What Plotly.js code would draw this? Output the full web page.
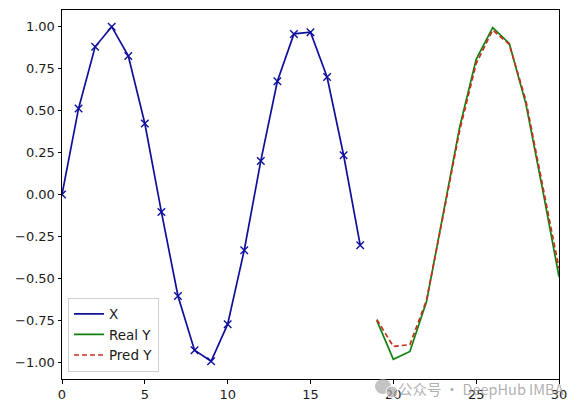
<!DOCTYPE html>
<html>
<head>
<meta charset="utf-8">
<script src="https://cdn.plot.ly/plotly-3.0.1.min.js"></script>
<style>html,body{margin:0;padding:0;background:#fff;}#chart{width:577px;height:413px;}</style>
</head>
<body>
<div id="chart"></div>
<script>
const xSteps = [0,1,2,3,4,5,6,7,8,9,10,11,12,13,14,15,16,17,18];
const xValues = [0, 0.513, 0.88, 1.0, 0.826, 0.423, -0.104, -0.605, -0.928, -0.994, -0.773, -0.332, 0.2, 0.675, 0.957, 0.967, 0.70, 0.234, -0.302];
const ySteps = [19,20,21,22,23,24,25,26,27,28,29,30];
const realY = [-0.75, -0.982, -0.935, -0.64, -0.12, 0.40, 0.805, 0.995, 0.90, 0.54, 0.035, -0.49];
const predY = [-0.745, -0.905, -0.895, -0.63, -0.13, 0.38, 0.78, 0.98, 0.895, 0.56, 0.06, -0.44];
const yTicks = [-1.0, -0.75, -0.5, -0.25, 0, 0.25, 0.5, 0.75, 1.0];
const xTicks = [0, 5, 10, 15, 20, 25, 30];
const watermark = "公众号 · DeepHub IMBA";

const PW = 497, PH = 369, L = 62, B = 379;
const px = v => (v - L) / PW;
const py = v => (B - v) / PH;

const font = {family: "DejaVu Sans", size: 13, color: "#1a1a1a"};
const blue = "#0f0f9c";
const traces = [
  {x: xSteps, y: xValues, name: "X", mode: "lines", type: "scatter",
   line: {color: blue, width: 1.7}},
  {x: xSteps, y: xValues, name: "X markers", mode: "markers", type: "scatter", showlegend: false,
   marker: {symbol: "x-thin-open", size: 7.5, line: {color: blue, width: 1.4}, color: blue}},
  {x: ySteps, y: realY, name: "Real Y", mode: "lines", type: "scatter",
   line: {color: "#108010", width: 1.7}},
  {x: ySteps, y: predY, name: "Pred Y", mode: "lines", type: "scatter",
   line: {color: "#c8301c", width: 1.7, dash: "5px,3px"}}
];
const layout = {
  width: 577, height: 413,
  margin: {l: 62, r: 18, t: 10, b: 34, pad: 0},
  paper_bgcolor: "#fff", plot_bgcolor: "#fff",
  font: font,
  showlegend: true,
  legend: {x: 0.012, y: 0.02, xanchor: "left", yanchor: "bottom",
    bgcolor: "rgba(255,255,255,0.85)", bordercolor: "#d0d0d0", borderwidth: 1,
    font: {family: "DejaVu Sans", size: 13.5, color: "#1a1a1a"}, tracegroupgap: 0, itemwidth: 30},
  xaxis: {range: [0, 30], tickvals: xTicks, ticktext: xTicks.map(String),
    showgrid: false, zeroline: false, showline: true, linecolor: "#000", linewidth: 1, mirror: true,
    ticks: "outside", ticklen: 3.5, tickwidth: 1, tickcolor: "#000"},
  yaxis: {range: [-1.0995, 1.0995], tickvals: yTicks, tickformat: ".2f",
    showgrid: false, zeroline: false, showline: true, linecolor: "#000", linewidth: 1, mirror: true,
    ticks: "outside", ticklen: 3.5, tickwidth: 1, tickcolor: "#000"},
  shapes: [
    {type: "circle", xref: "paper", yref: "paper", x0: px(375), x1: px(391), y0: py(394), y1: py(379),
     fillcolor: "rgba(170,170,170,0.7)", line: {width: 0}},
    {type: "circle", xref: "paper", yref: "paper", x0: px(386), x1: px(398), y0: py(398), y1: py(386),
     fillcolor: "rgba(170,170,170,0.7)", line: {color: "#fff", width: 1}}
  ],
  annotations: [{text: watermark, xref: "paper", yref: "paper", x: px(566), y: py(388),
    xanchor: "right", yanchor: "middle", showarrow: false,
    font: {family: "Noto Sans CJK SC", size: 14.5, color: "rgba(150,150,150,0.75)"}}]
};
Plotly.newPlot("chart", traces, layout, {displayModeBar: false, staticPlot: true});
</script>
</body>
</html>
